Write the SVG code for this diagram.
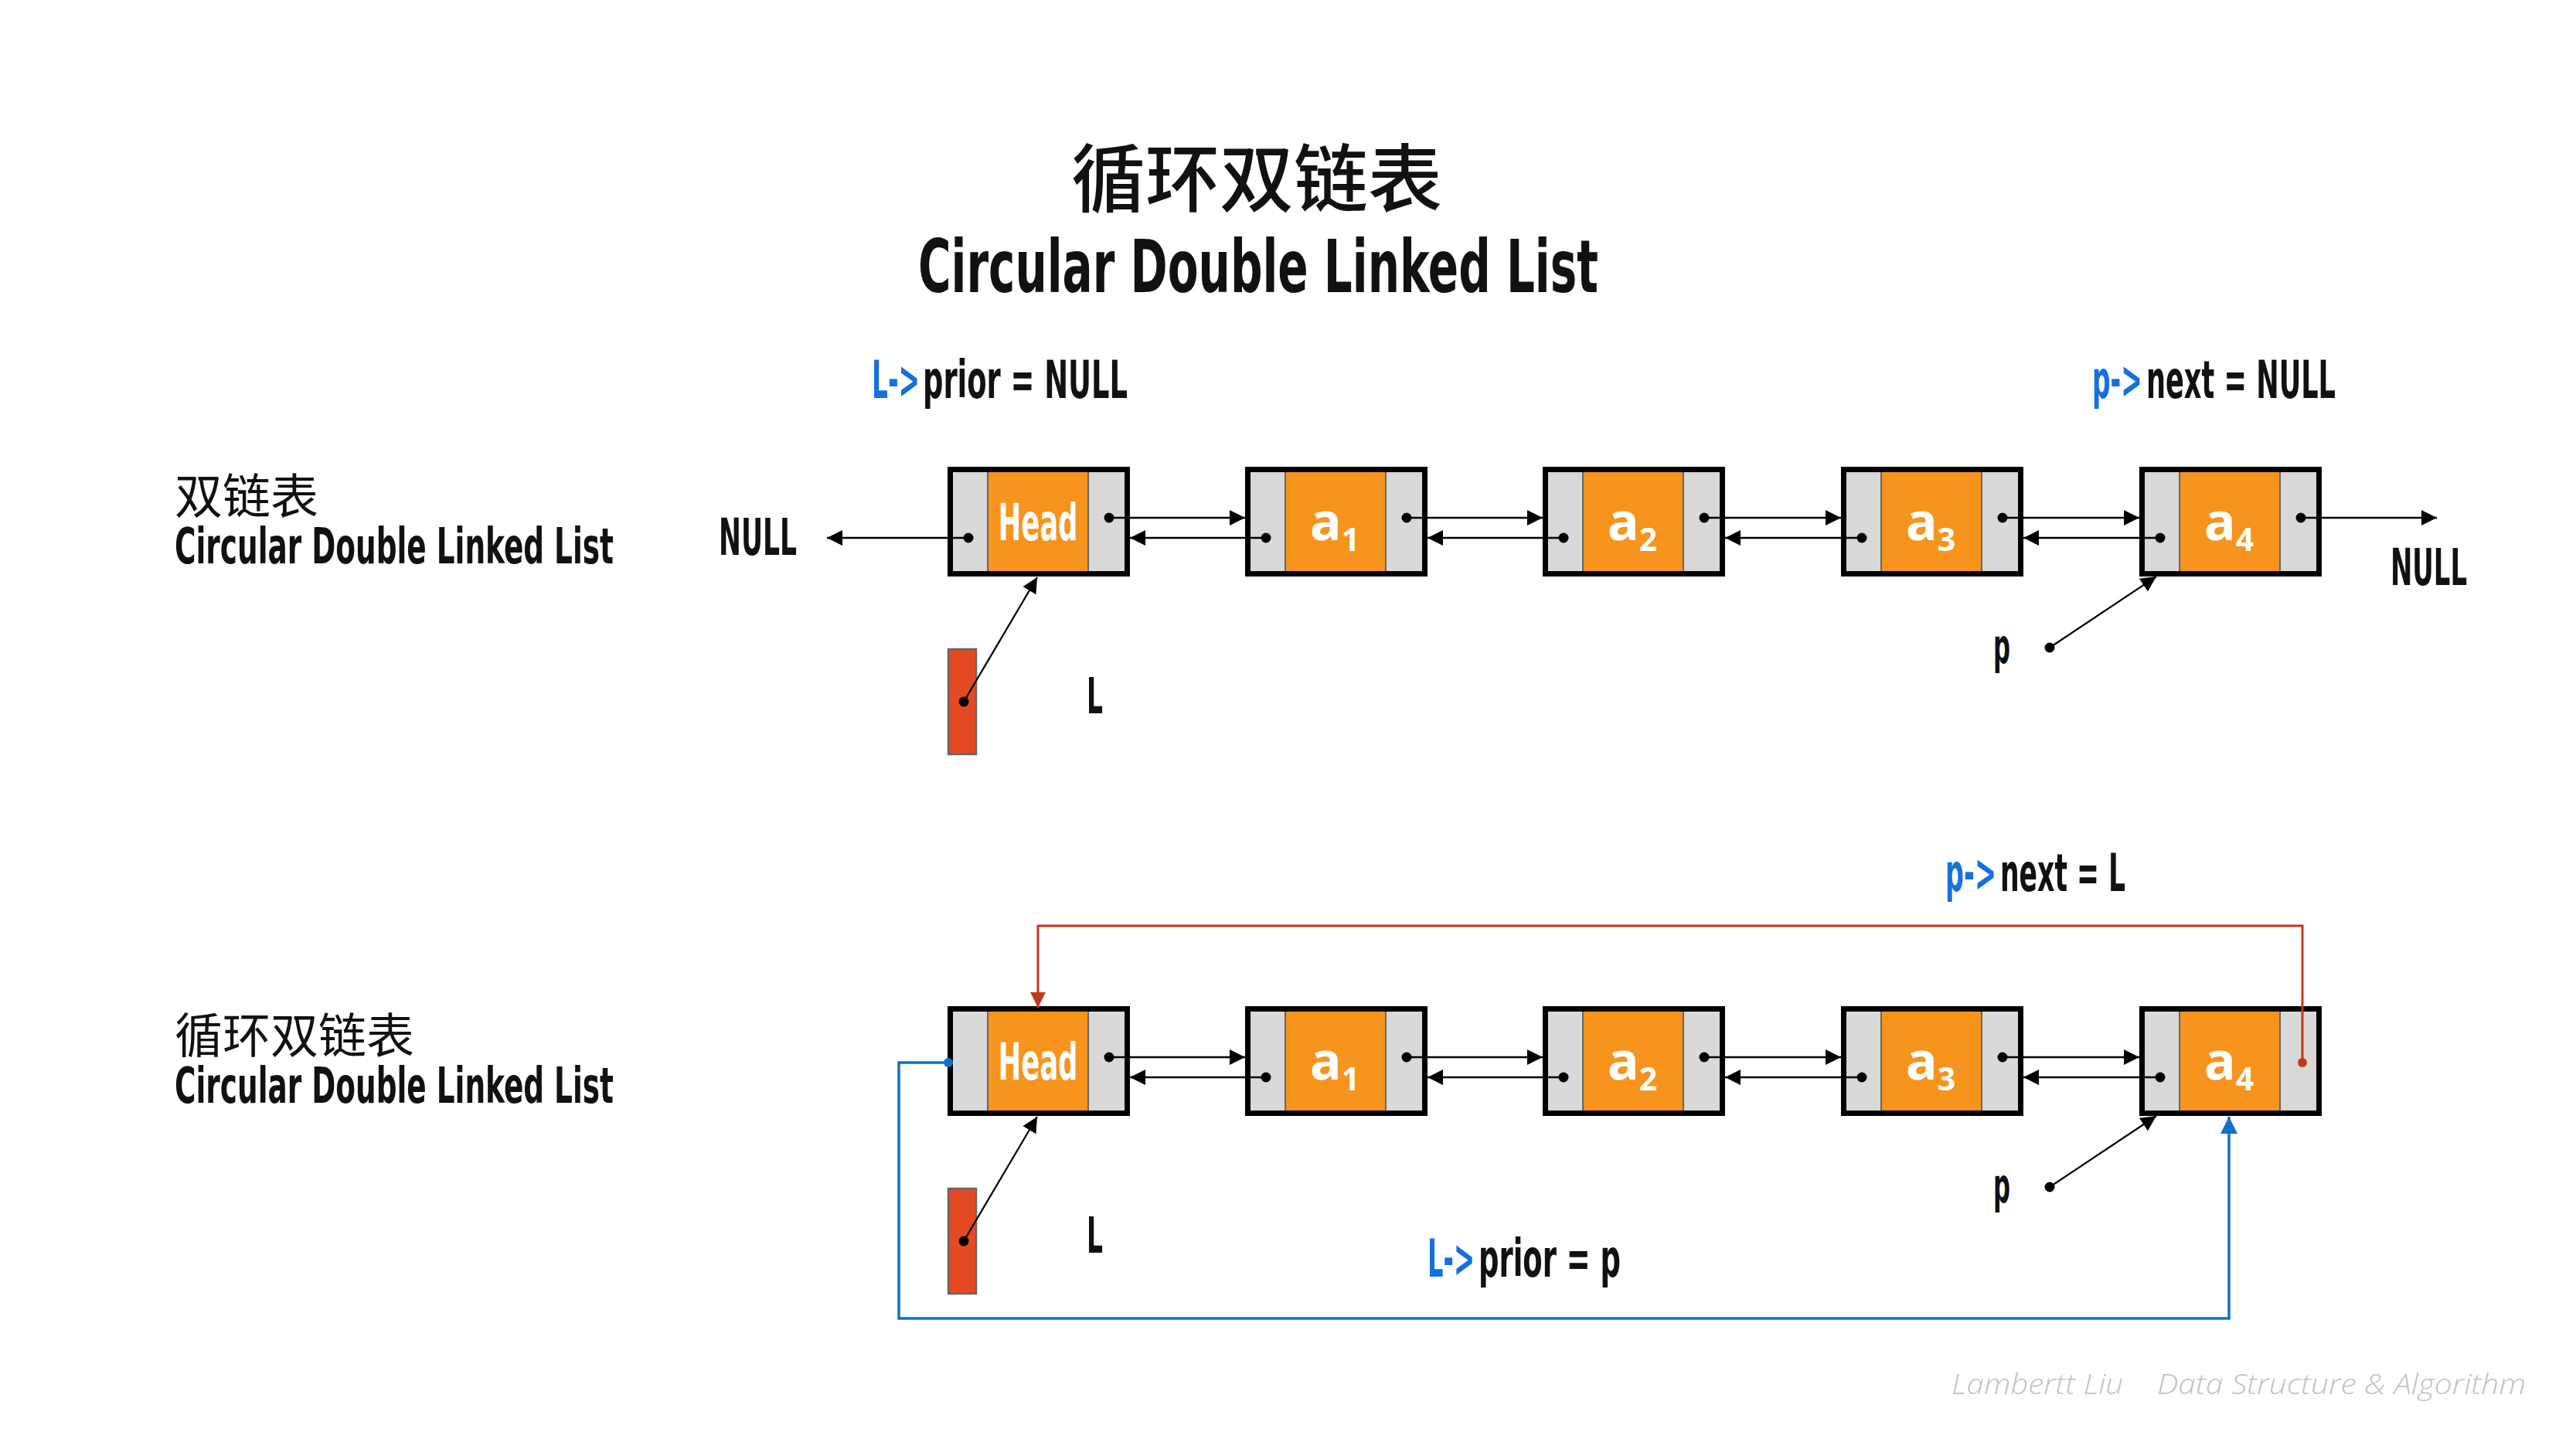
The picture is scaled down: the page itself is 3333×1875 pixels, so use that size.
<svg xmlns="http://www.w3.org/2000/svg" width="3333" height="1875" viewBox="0 0 3333 1875">
<style>
.bg{fill:#ffffff}
.frame{fill:#D9D9D9;stroke:#000;stroke-width:7}
.data{fill:#F7941D}
.div{stroke:#666;stroke-width:2}
.dot{fill:#000}
.cond{font-family:"DejaVu Sans Condensed","DejaVu Sans","Liberation Sans",sans-serif;font-stretch:condensed;font-weight:bold;fill:#111}
.cjk{font-family:"Noto Sans CJK SC","Noto Sans CJK TC",sans-serif;fill:#111}
.head{font-family:"DejaVu Sans Condensed","DejaVu Sans","Liberation Sans",sans-serif;font-stretch:condensed;font-weight:bold;fill:#fff;font-size:66px}
.val{font-family:"Open Sans","Noto Sans",sans-serif;font-weight:bold;fill:#fff;font-size:68px}
.sub{font-size:41px}
.blue{fill:#1570E0}
.link{stroke:#000;stroke-width:2.5;fill:none}
.ptr{stroke:#000;stroke-width:2.2;fill:none}
.red{stroke:#BE3A1C;stroke-width:3;fill:none}
.bl{stroke:#0E73C4;stroke-width:3.5;fill:none}
.lbox{fill:#E34A24;stroke:#666;stroke-width:2.5}
.wm{font-family:"Open Sans","Liberation Sans",sans-serif;font-style:italic;font-weight:300;fill:#C2C2C2;font-size:37px}
</style>
<defs>
<marker id="ah" markerUnits="userSpaceOnUse" markerWidth="20" markerHeight="20" refX="20" refY="10" orient="auto">
<path d="M0,0 L20,10 L0,20 z" fill="#000"/>
</marker>
<marker id="ahr" markerUnits="userSpaceOnUse" markerWidth="20" markerHeight="20" refX="20" refY="10" orient="auto">
<path d="M0,0 L20,10 L0,20 z" fill="#BE3A1C"/>
</marker>
<marker id="ahb" markerUnits="userSpaceOnUse" markerWidth="22" markerHeight="22" refX="22" refY="11" orient="auto">
<path d="M0,0 L22,11 L0,22 z" fill="#0E73C4"/>
</marker>
<g id="node">
<rect class="frame" x="3.5" y="3.5" width="229" height="135"/>
<rect class="data" x="52" y="7" width="130" height="128"/>
<line class="div" x1="52" y1="7" x2="52" y2="135"/>
<line class="div" x1="182" y1="7" x2="182" y2="135"/>
</g>
</defs>
<rect class="bg" x="0" y="0" width="3333" height="1875"/>

<g id="title">
<text class="cjk" x="1626" y="266" font-size="96" font-weight="500" text-anchor="middle">循环双链表</text>
<text class="cond" transform="translate(1188,378) scale(0.57,1)" font-size="95" textLength="1543.9" lengthAdjust="spacingAndGlyphs">Circular Double Linked List</text>
</g>

<g id="labels">
<text class="cjk" x="226" y="665" font-size="62">双链表</text>
<text class="cond" transform="translate(226,729) scale(0.57,1)" font-size="64" textLength="996.5" lengthAdjust="spacingAndGlyphs">Circular Double Linked List</text>
<text class="cjk" x="226" y="1363" font-size="62">循环双链表</text>
<text class="cond" transform="translate(226,1427) scale(0.57,1)" font-size="64" textLength="996.5" lengthAdjust="spacingAndGlyphs">Circular Double Linked List</text>
<text class="cond" transform="translate(930,718) scale(0.57,1)" font-size="66" textLength="177.2" lengthAdjust="spacingAndGlyphs">NULL</text>
<text class="cond" transform="translate(3093,757) scale(0.57,1)" font-size="66" textLength="173.7" lengthAdjust="spacingAndGlyphs">NULL</text>
<text class="cond blue" transform="translate(1128,515) scale(0.57,1)" font-size="67" textLength="108.8" lengthAdjust="spacingAndGlyphs">L-&gt;</text>
<text class="cond" transform="translate(1194,515) scale(0.57,1)" font-size="67" textLength="464.9" lengthAdjust="spacingAndGlyphs">prior = NULL</text>
<text class="cond blue" transform="translate(2707,515) scale(0.57,1)" font-size="67" textLength="114" lengthAdjust="spacingAndGlyphs">p-&gt;</text>
<text class="cond" transform="translate(2777,515) scale(0.57,1)" font-size="67" textLength="429.8" lengthAdjust="spacingAndGlyphs">next = NULL</text>
<text class="cond blue" transform="translate(2517,1153) scale(0.57,1)" font-size="67" textLength="115.8" lengthAdjust="spacingAndGlyphs">p-&gt;</text>
<text class="cond" transform="translate(2588,1153) scale(0.57,1)" font-size="67" textLength="284.2" lengthAdjust="spacingAndGlyphs">next = L</text>
<text class="cond blue" transform="translate(1847,1652) scale(0.57,1)" font-size="67" textLength="107" lengthAdjust="spacingAndGlyphs">L-&gt;</text>
<text class="cond" transform="translate(1913,1652) scale(0.57,1)" font-size="67" textLength="322.8" lengthAdjust="spacingAndGlyphs">prior = p</text>
<text class="cond" transform="translate(1406,923) scale(0.57,1)" font-size="64" textLength="36.8" lengthAdjust="spacingAndGlyphs">L</text>
<text class="cond" transform="translate(1406,1621) scale(0.57,1)" font-size="64" textLength="36.8" lengthAdjust="spacingAndGlyphs">L</text>
<text class="cond" transform="translate(2579,858) scale(0.57,1)" font-size="62" textLength="38.6" lengthAdjust="spacingAndGlyphs">p</text>
<text class="cond" transform="translate(2579,1556) scale(0.57,1)" font-size="62" textLength="38.6" lengthAdjust="spacingAndGlyphs">p</text>
</g>

<!-- top row nodes -->
<g id="top-head" transform="translate(1226,604)">
<use href="#node"/>
<circle class="dot" cx="27" cy="92" r="6.5"/><circle class="dot" cx="209" cy="66" r="6.5"/>
<text class="head" transform="translate(117,95) scale(0.57,1)" text-anchor="middle" textLength="180.7" lengthAdjust="spacingAndGlyphs">Head</text>
</g>
<g id="top-a1" transform="translate(1611,604)">
<use href="#node"/>
<circle class="dot" cx="27" cy="92" r="6.5"/><circle class="dot" cx="209" cy="66" r="6.5"/>
<text class="val" x="116" y="95" text-anchor="middle">a<tspan class="sub" dy="14">1</tspan></text>
</g>
<g id="top-a2" transform="translate(1996,604)">
<use href="#node"/>
<circle class="dot" cx="27" cy="92" r="6.5"/><circle class="dot" cx="209" cy="66" r="6.5"/>
<text class="val" x="116" y="95" text-anchor="middle">a<tspan class="sub" dy="14">2</tspan></text>
</g>
<g id="top-a3" transform="translate(2382,604)">
<use href="#node"/>
<circle class="dot" cx="27" cy="92" r="6.5"/><circle class="dot" cx="209" cy="66" r="6.5"/>
<text class="val" x="116" y="95" text-anchor="middle">a<tspan class="sub" dy="14">3</tspan></text>
</g>
<g id="top-a4" transform="translate(2768,604)">
<use href="#node"/>
<circle class="dot" cx="27" cy="92" r="6.5"/><circle class="dot" cx="209" cy="66" r="6.5"/>
<text class="val" x="116" y="95" text-anchor="middle">a<tspan class="sub" dy="14">4</tspan></text>
</g>
<g id="top-L">
<rect class="lbox" x="1227" y="840" width="36" height="136"/>
<circle class="dot" cx="1247" cy="908" r="6.5"/>
</g>
<g id="top-p">
<circle class="dot" cx="2652" cy="838" r="6.5"/>
</g>

<!-- bottom row nodes -->
<g id="bot-head" transform="translate(1226,1302)">
<use href="#node"/>
<circle class="dot" cx="209" cy="66" r="6.5"/>
<text class="head" transform="translate(117,95) scale(0.57,1)" text-anchor="middle" textLength="180.7" lengthAdjust="spacingAndGlyphs">Head</text>
</g>
<g id="bot-a1" transform="translate(1611,1302)">
<use href="#node"/>
<circle class="dot" cx="27" cy="92" r="6.5"/><circle class="dot" cx="209" cy="66" r="6.5"/>
<text class="val" x="116" y="95" text-anchor="middle">a<tspan class="sub" dy="14">1</tspan></text>
</g>
<g id="bot-a2" transform="translate(1996,1302)">
<use href="#node"/>
<circle class="dot" cx="27" cy="92" r="6.5"/><circle class="dot" cx="209" cy="66" r="6.5"/>
<text class="val" x="116" y="95" text-anchor="middle">a<tspan class="sub" dy="14">2</tspan></text>
</g>
<g id="bot-a3" transform="translate(2382,1302)">
<use href="#node"/>
<circle class="dot" cx="27" cy="92" r="6.5"/><circle class="dot" cx="209" cy="66" r="6.5"/>
<text class="val" x="116" y="95" text-anchor="middle">a<tspan class="sub" dy="14">3</tspan></text>
</g>
<g id="bot-a4" transform="translate(2768,1302)">
<use href="#node"/>
<circle class="dot" cx="27" cy="92" r="6.5"/>
<text class="val" x="116" y="95" text-anchor="middle">a<tspan class="sub" dy="14">4</tspan></text>
</g>
<g id="bot-L">
<rect class="lbox" x="1227" y="1538" width="36" height="136"/>
<circle class="dot" cx="1247" cy="1606" r="6.5"/>
</g>
<g id="bot-p">
<circle class="dot" cx="2652" cy="1536" r="6.5"/>
</g>

<g id="connectors">
<!-- top row -->
<line class="link" x1="1247" y1="696" x2="1070" y2="696" marker-end="url(#ah)"/>
<line class="link" x1="1435" y1="670" x2="1611" y2="670" marker-end="url(#ah)"/>
<line class="link" x1="1638" y1="696" x2="1462" y2="696" marker-end="url(#ah)"/>
<line class="link" x1="1820" y1="670" x2="1996" y2="670" marker-end="url(#ah)"/>
<line class="link" x1="2023" y1="696" x2="1847" y2="696" marker-end="url(#ah)"/>
<line class="link" x1="2205" y1="670" x2="2382" y2="670" marker-end="url(#ah)"/>
<line class="link" x1="2409" y1="696" x2="2232" y2="696" marker-end="url(#ah)"/>
<line class="link" x1="2591" y1="670" x2="2768" y2="670" marker-end="url(#ah)"/>
<line class="link" x1="2795" y1="696" x2="2618" y2="696" marker-end="url(#ah)"/>
<line class="link" x1="2977" y1="670" x2="3153" y2="670" marker-end="url(#ah)"/>
<line class="ptr" x1="1247" y1="908" x2="1342" y2="747" marker-end="url(#ah)"/>
<line class="ptr" x1="2652" y1="838" x2="2790" y2="746" marker-end="url(#ah)"/>
<!-- bottom row -->
<line class="link" x1="1435" y1="1368" x2="1611" y2="1368" marker-end="url(#ah)"/>
<line class="link" x1="1638" y1="1394" x2="1462" y2="1394" marker-end="url(#ah)"/>
<line class="link" x1="1820" y1="1368" x2="1996" y2="1368" marker-end="url(#ah)"/>
<line class="link" x1="2023" y1="1394" x2="1847" y2="1394" marker-end="url(#ah)"/>
<line class="link" x1="2205" y1="1368" x2="2382" y2="1368" marker-end="url(#ah)"/>
<line class="link" x1="2409" y1="1394" x2="2232" y2="1394" marker-end="url(#ah)"/>
<line class="link" x1="2591" y1="1368" x2="2768" y2="1368" marker-end="url(#ah)"/>
<line class="link" x1="2795" y1="1394" x2="2618" y2="1394" marker-end="url(#ah)"/>
<line class="ptr" x1="1247" y1="1606" x2="1342" y2="1445" marker-end="url(#ah)"/>
<line class="ptr" x1="2652" y1="1536" x2="2790" y2="1444" marker-end="url(#ah)"/>
<path class="red" d="M2979,1375 V1198 H1343 V1304" marker-end="url(#ahr)"/>
<circle cx="2979" cy="1375" r="6" fill="#BE3A1C"/>
<path class="bl" d="M1227,1375 H1163 V1706 H2884 V1445" marker-end="url(#ahb)"/>
<circle cx="1227" cy="1375" r="6" fill="#0E73C4"/>
</g>

<g id="watermark">
<text class="wm" x="2525" y="1804" textLength="222" lengthAdjust="spacingAndGlyphs">Lambertt Liu</text>
<text class="wm" x="2791" y="1804" textLength="477" lengthAdjust="spacingAndGlyphs">Data Structure &amp; Algorithm</text>
</g>
</svg>
